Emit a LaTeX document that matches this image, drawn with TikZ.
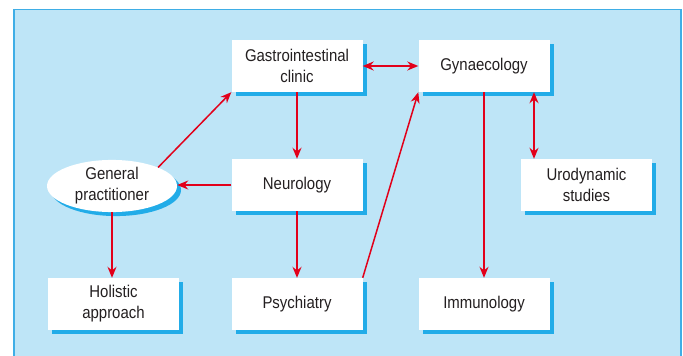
\documentclass[tikz,border=0pt]{standalone}
\usepackage{fontspec}
\setmainfont[FakeStretch=0.88]{Liberation Sans}
\usetikzlibrary{shapes.geometric,shadows,arrows.meta}
\definecolor{panelbg}{HTML}{BEE5F7}
\definecolor{panelline}{HTML}{3FAEE6}
\definecolor{shadowblue}{HTML}{22ACE8}
\definecolor{arrowred}{HTML}{E2001A}
\definecolor{textcol}{HTML}{231F20}
\begin{document}
\begin{tikzpicture}[x=1pt,y=-1pt,
  box/.style={draw=none, fill=white, minimum width=131pt, minimum height=52pt,
    align=center, inner sep=0pt, text=textcol,
    font=\fontsize{17}{21}\selectfont,
    drop shadow={shadow xshift=4pt, shadow yshift=-4pt, fill=shadowblue, opacity=1}},
  oval/.style={box, ellipse, minimum width=130pt, minimum height=47pt},
  conn/.style={draw=arrowred, line width=1.5pt, -{Stealth[length=11pt,width=9pt]}},
  bconn/.style={conn, {Stealth[length=11pt,width=9pt]}-{Stealth[length=11pt,width=9pt]}}
]
\useasboundingbox (0,0) rectangle (683,356);
\fill[white] (0,0) rectangle (683,356);
\draw[panelline, line width=1.2pt, fill=panelbg] (14,9.5) rectangle (681,370);

\node[box] (gastro) at (297,66) {Gastrointestinal\\clinic};
\node[box] (gynae) at (484,66) {Gynaecology};
\node[box] (neuro) at (297,185) {Neurology};
\node[box] (uro) at (586.5,185) {Urodynamic\\studies};
\node[oval] (gp) at (112,186) {General\\practitioner};
\node[box] (holistic) at (113.5,304) {Holistic\\approach};
\node[box] (psych) at (297,304) {Psychiatry};
\node[box] (immuno) at (484,304) {Immunology};

\draw[conn] (gp.north east) -- (gastro.south west);
\draw[bconn] (gastro.east) -- (gynae.west);
\draw[conn] (gastro.south) -- (neuro.north);
\draw[conn] (neuro.west) -- (neuro.west -| gp.east);
\draw[conn] (gp.south) -- (gp.south |- holistic.north);
\draw[conn] (neuro.south) -- (psych.north);
\draw[conn] (psych.north east) -- (gynae.south west);
\draw[conn] (gynae.south) -- (immuno.north);
\draw[bconn] ([xshift=50pt]gynae.south) -- ([xshift=50pt]gynae.south |- uro.north);
\end{tikzpicture}
\end{document}
